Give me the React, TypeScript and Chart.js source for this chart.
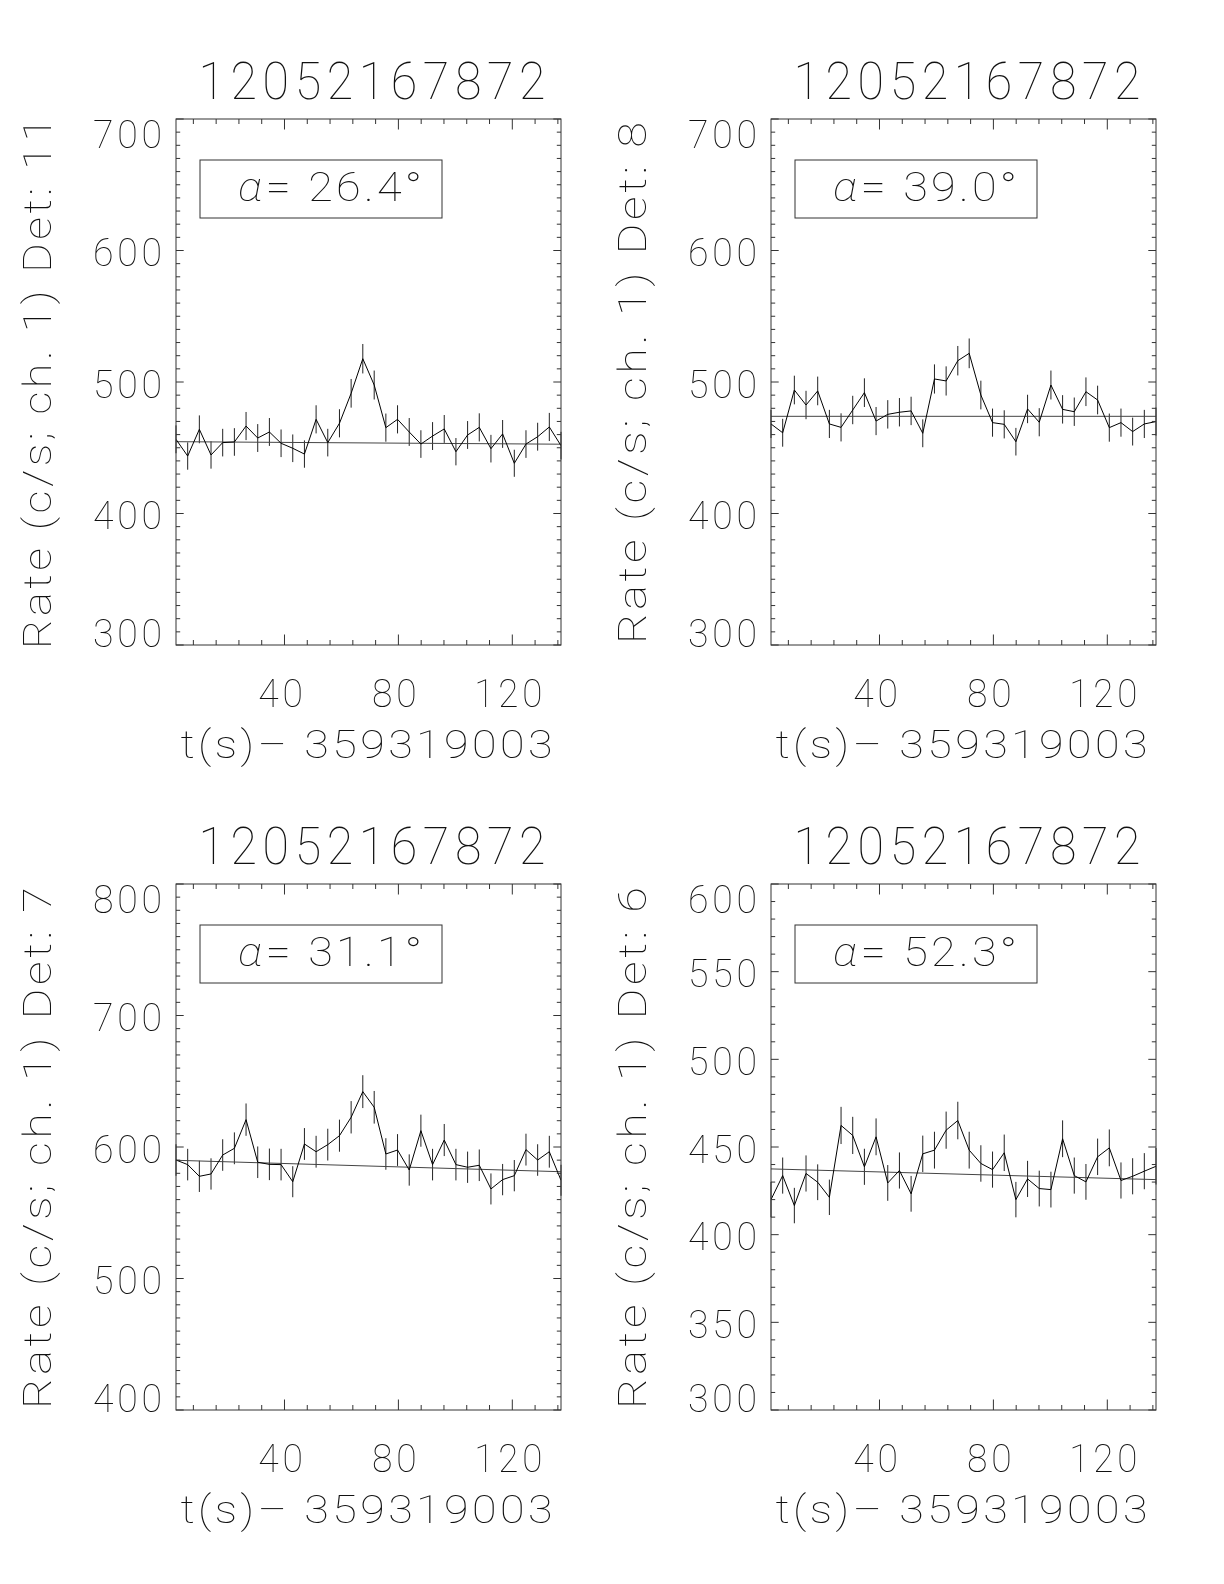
import React, { useEffect, useRef } from "react";
import { Chart, registerables } from "chart.js";
Chart.register(...registerables);

// time bins (s) relative to 359319003
const times = [1.9, 6.0, 10.1, 14.2, 18.3, 22.4, 26.5, 30.6, 34.7, 38.8, 42.9, 47.0, 51.1, 55.2, 59.3, 63.4, 67.5,
  71.5, 75.6, 79.7, 83.8, 87.9, 92.0, 96.1, 100.2, 104.3, 108.4, 112.5, 116.6, 120.7, 124.8, 128.9, 133.0, 137.1];

const rateDet11 = [456.4, 443.7, 464.0, 444.5, 453.9, 454.4, 466.5, 457.4, 462.0, 453.4, 449.6, 445.2, 471.6, 453.9,
  468.6, 491.4, 517.7, 497.7, 465.3, 471.6, 462.0, 452.8, 458.9, 464.3, 447.0, 459.7, 465.5, 449.3, 460.5, 438.2,
  452.8, 458.4, 465.8, 451.6];
const errDet11 = [10.6, 10.4, 10.6, 10.4, 10.5, 10.5, 10.7, 10.6, 10.6, 10.5, 10.5, 10.4, 10.7, 10.5, 10.7, 10.9, 11.2,
  11.0, 10.7, 10.7, 10.6, 10.5, 10.6, 10.6, 10.4, 10.6, 10.7, 10.5, 10.6, 10.3, 10.5, 10.6, 10.7, 10.5];
const bgDet11 = [454.6, 452.7];

const rateDet8 = [468.1, 461.4, 493.9, 482.5, 493.2, 468.1, 465.5, 478.7, 491.9, 470.3, 475.4, 477.0, 478.0, 461.0,
  502.3, 500.8, 516.2, 521.8, 490.1, 469.1, 467.8, 454.6, 479.5, 469.4, 497.7, 479.2, 477.4, 492.6, 486.3, 465.3,
  469.1, 462.3, 468.1, 469.9];
const errDet8 = [10.7, 10.6, 10.9, 10.8, 10.9, 10.7, 10.7, 10.8, 10.9, 10.7, 10.8, 10.8, 10.8, 10.6, 11.1, 11.1, 11.2,
  11.3, 10.9, 10.7, 10.7, 10.5, 10.8, 10.7, 11.0, 10.8, 10.8, 10.9, 10.9, 10.7, 10.7, 10.6, 10.7, 10.7];
const bgDet8 = [473.9, 473.9];

const rateDet7 = [590.1, 586.6, 577.7, 579.5, 593.9, 599.0, 620.8, 588.4, 586.8, 586.6, 573.6, 602.3, 596.4, 601.8,
  608.6, 622.6, 642.1, 630.2, 594.7, 597.7, 582.5, 612.4, 586.6, 605.3, 586.6, 584.6, 586.1, 568.1, 575.2, 578.2,
  598.0, 590.1, 596.4, 574.7];
const errDet7 = [12.0, 12.0, 11.9, 11.9, 12.0, 12.1, 12.3, 12.0, 12.0, 12.0, 11.8, 12.1, 12.1, 12.1, 12.2, 12.3, 12.5,
  12.4, 12.0, 12.1, 11.9, 12.2, 12.0, 12.2, 12.0, 11.9, 12.0, 11.8, 11.9, 11.9, 12.1, 12.0, 12.1, 11.8];
const bgDet7 = [589.9, 581.2];

const rateDet6 = [420.0, 433.7, 416.6, 434.9, 429.9, 421.3, 462.3, 456.6, 438.7, 455.8, 429.5, 436.6, 423.3, 446.1,
  448.2, 459.6, 465.1, 448.2, 440.6, 437.1, 446.7, 420.0, 431.8, 426.3, 425.7, 454.7, 433.7, 430.1, 444.4, 449.5,
  430.9, 433.3, 436.2, 439.0];
const errDet6 = [10.1, 10.3, 10.1, 10.3, 10.2, 10.1, 10.6, 10.6, 10.3, 10.5, 10.2, 10.3, 10.2, 10.4, 10.5, 10.6, 10.7,
  10.5, 10.4, 10.3, 10.4, 10.1, 10.3, 10.2, 10.2, 10.5, 10.3, 10.2, 10.4, 10.5, 10.3, 10.3, 10.3, 10.4];
const bgDet6 = [437.5, 431.4];

const titleText = "12052167872";
const xTitle = "t(s)\u2013 359319003";
const detectors = ["11", "8", "7", "6"];
const alphas = ["26.4", "39.0", "31.1", "52.3"];
const yMins = [300, 300, 400, 300];
const yMaxs = [700, 700, 800, 600];
const yMajor = [100, 100, 100, 50];
const yMinor = 10;
const xMajor = 40;
const xMinor = 8;

const rates = [rateDet11, rateDet8, rateDet7, rateDet6];
const errs = [errDet11, errDet8, errDet7, errDet6];
const bgs = [bgDet11, bgDet8, bgDet7, bgDet6];

const FONT = 'Roboto, "DejaVu Sans", sans-serif';
const WT = "100";
const W = 612;
const H = 792;

function fitText(ctx: CanvasRenderingContext2D, text: string, x: number, y: number, width: number, align: CanvasTextAlign, spacing = 0) {
  (ctx as any).letterSpacing = spacing + "px";
  const m = ctx.measureText(text).width - spacing;
  const s = width / m;
  ctx.save();
  ctx.translate(x, y);
  ctx.scale(s, 1);
  ctx.textAlign = "left";
  const x0 = align === "left" ? 0 : align === "right" ? -m : -m / 2;
  ctx.fillText(text, x0, 0);
  ctx.restore();
  (ctx as any).letterSpacing = "0px";
}

function makePlugin(i: number) {
  return {
    id: "idl" + i,
    beforeDatasetsDraw(chart: any) {
      const ctx: CanvasRenderingContext2D = chart.ctx;
      const xs = chart.scales.x;
      const ys = chart.scales.y;
      ctx.save();
      ctx.strokeStyle = "#222";
      ctx.lineWidth = 1;
      ctx.beginPath();
      times.forEach((t, k) => {
        const x = xs.getPixelForValue(t);
        ctx.moveTo(x, ys.getPixelForValue(rates[i][k] - errs[i][k]));
        ctx.lineTo(x, ys.getPixelForValue(rates[i][k] + errs[i][k]));
      });
      ctx.stroke();
      ctx.restore();
    },
    afterDraw(chart: any) {
      const ctx: CanvasRenderingContext2D = chart.ctx;
      const xs = chart.scales.x;
      const ys = chart.scales.y;
      const { left, right, top, bottom } = chart.chartArea;
      ctx.save();
      ctx.strokeStyle = "#333";
      ctx.lineWidth = 1;
      ctx.strokeRect(left, top, right - left, bottom - top);
      ctx.beginPath();
      const x0 = Math.ceil(times[0] / xMinor) * xMinor;
      for (let v = x0; v <= times[times.length - 1]; v += xMinor) {
        const len = v % xMajor === 0 ? 10.5 : 5;
        const x = xs.getPixelForValue(v);
        ctx.moveTo(x, bottom);
        ctx.lineTo(x, bottom - len);
        ctx.moveTo(x, top);
        ctx.lineTo(x, top + len);
      }
      for (let v = yMins[i]; v <= yMaxs[i]; v += yMinor) {
        const len = (v - yMins[i]) % yMajor[i] === 0 ? 7.7 : 4.2;
        const y = ys.getPixelForValue(v);
        ctx.moveTo(left, y);
        ctx.lineTo(left + len, y);
        ctx.moveTo(right, y);
        ctx.lineTo(right - len, y);
      }
      ctx.stroke();

      ctx.fillStyle = "#111";
      ctx.textBaseline = "alphabetic";
      // y tick labels
      ctx.font = `${WT} 39px ${FONT}`;
      for (let v = yMins[i]; v <= yMaxs[i]; v += yMajor[i]) {
        const y = ys.getPixelForValue(v);
        let b = y + 15.5;
        b = Math.max(b, top + 28.5);
        b = Math.min(b, bottom + 1.5);
        const s = String(v);
        fitText(ctx, s, left - 14, b, s.length * 23.7 - 2, "right", 4);
      }
      // x tick labels
      for (let v = xMajor; v <= times[times.length - 1]; v += xMajor) {
        const s = String(v);
        fitText(ctx, s, xs.getPixelForValue(v) - 4, bottom + 62, s.length * 23.3 - 2, "center", 4);
      }
      // x title
      fitText(ctx, xTitle, (left + right) / 2 - 2, bottom + 113, 372, "center", 3);
      // y title
      ctx.save();
      ctx.translate(left - 125, (top + bottom) / 2 + 1);
      ctx.rotate(-Math.PI / 2);
      fitText(ctx, `Rate (c/s; ch. 1) Det: ${detectors[i]}`, 0, 0, detectors[i].length > 1 ? 532 : 522, "center", 3);
      ctx.restore();
      // title
      ctx.font = `${WT} 52px ${FONT}`;
      fitText(ctx, titleText, (left + right) / 2 + 3.5, top - 20, 347, "center", 6);
      // legend box
      ctx.strokeStyle = "#333";
      ctx.strokeRect(left + 24, top + 41, 242, 58);
      (ctx as any).letterSpacing = "3px";
      ctx.font = `italic ${WT} 41px ${FONT}`;
      const aW = ctx.measureText("\u03b1").width;
      ctx.font = `${WT} 41px ${FONT}`;
      const rest = `= ${alphas[i]}\u00b0`;
      const rW = ctx.measureText(rest).width - 3;
      const s = 184 / (aW + rW);
      ctx.save();
      ctx.translate(left + 62, top + 82);
      ctx.scale(s, 1);
      ctx.textAlign = "left";
      ctx.font = `italic ${WT} 41px ${FONT}`;
      ctx.fillText("\u03b1", 0, 0);
      ctx.font = `${WT} 41px ${FONT}`;
      ctx.fillText(rest, aW, 0);
      ctx.restore();
      (ctx as any).letterSpacing = "0px";
      ctx.restore();
    },
  };
}

const paddings = [
  { left: 176, right: 51, top: 119, bottom: 147 },
  { left: 159, right: 68, top: 119, bottom: 147 },
  { left: 176, right: 51, top: 92, bottom: 174 },
  { left: 159, right: 68, top: 92, bottom: 174 },
];

function Panel({ index }: { index: number }) {
  const ref = useRef<HTMLCanvasElement>(null);
  useEffect(() => {
    if (!ref.current) return;
    const n = times.length;
    const chart = new Chart(ref.current, {
      type: "line",
      data: {
        datasets: [
          {
            data: times.map((t, k) => ({ x: t, y: rates[index][k] })),
            borderColor: "#000",
            borderWidth: 1,
            pointRadius: 0,
            tension: 0,
            fill: false,
          },
          {
            data: [
              { x: times[0], y: bgs[index][0] },
              { x: times[n - 1], y: bgs[index][1] },
            ],
            borderColor: "#444",
            borderWidth: 1,
            pointRadius: 0,
            fill: false,
          },
        ],
      },
      options: {
        animation: false,
        responsive: false,
        maintainAspectRatio: false,
        events: [],
        layout: { padding: paddings[index] },
        plugins: { legend: { display: false }, tooltip: { enabled: false } },
        scales: {
          x: { type: "linear", min: times[0], max: times[n - 1], display: false },
          y: { type: "linear", min: yMins[index], max: yMaxs[index], display: false },
        },
      },
      plugins: [makePlugin(index)],
    } as any);
    return () => chart.destroy();
  }, [index]);
  const col = index % 2;
  const row = Math.floor(index / 2);
  return (
    <canvas
      ref={ref}
      width={W}
      height={H}
      style={{ position: "absolute", left: col * W, top: row * H, width: W, height: H }}
    />
  );
}

export default function App() {
  return (
    <div style={{ position: "absolute", left: 0, top: 0, width: 1224, height: 1584, background: "#fff" }}>
      {[0, 1, 2, 3].map((i) => (
        <Panel key={i} index={i} />
      ))}
    </div>
  );
}
